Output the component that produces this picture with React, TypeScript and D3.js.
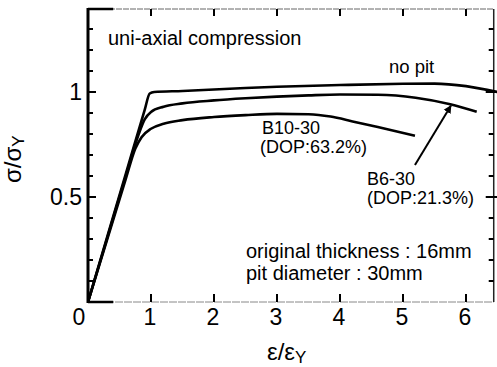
import React from "react";
import * as d3 from "d3";

const W = 497;
const H = 367;

// strain ratio vs stress ratio
const noPit: [number, number][] = [
  [0, 0], [0.3, 0.305], [0.6, 0.61], [0.9, 0.915], [0.98, 0.993], [1.05, 1.0],
  [1.5, 1.005], [2, 1.012], [2.5, 1.019], [3, 1.025], [4, 1.033], [5, 1.039],
  [5.5, 1.04], [6, 1.028], [6.5, 1.0],
];
const b630: [number, number][] = [
  [0, 0], [0.3, 0.3], [0.6, 0.6], [0.8, 0.795], [0.9, 0.87], [1.0, 0.905],
  [1.2, 0.93], [1.5, 0.946], [2, 0.96], [2.5, 0.97], [3, 0.978], [3.5, 0.984],
  [4, 0.988], [4.6, 0.987], [5.2, 0.973], [5.75, 0.942], [6.17, 0.906],
];
const b1030: [number, number][] = [
  [0, 0], [0.3, 0.293], [0.6, 0.586], [0.75, 0.73], [0.85, 0.785], [1.0, 0.825],
  [1.2, 0.849], [1.5, 0.866], [2, 0.881], [2.5, 0.89], [3, 0.896], [3.5, 0.894],
  [3.85, 0.883], [4.2, 0.86], [4.6, 0.833], [5.19, 0.792],
];
const arrowFrom: [number, number] = [5.19, 0.652];
const arrowTo: [number, number] = [5.76, 0.935];

const xTicks = [1, 2, 3, 4, 5, 6];
const yMinor = d3.range(1, 14).map((i) => i / 10);
const yLabels = [0.5, 1];

const FONT = "'Liberation Sans', Arial, Helvetica, sans-serif";

export default function App() {
  const x = d3.scaleLinear().domain([0, 6.5]).range([88, 497.5]);
  const y = d3.scaleLinear().domain([0, 1.4]).range([302, 8]);
  const xRight = x(6.44);
  const line = d3
    .line<[number, number]>()
    .x((d) => x(d[0]))
    .y((d) => y(d[1]))
    .curve(d3.curveMonotoneX);

  return (
    <div style={{ position: "fixed", left: 0, top: 0 }}>
      <svg width={W} height={H} style={{ display: "block", background: "#fff" }}>
        <defs>
          <clipPath id="clip">
            <rect x={x(0)} y={0} width={W - x(0)} height={y(0)} />
          </clipPath>
          <marker id="ah" viewBox="0 0 10 10" refX="9" refY="5" markerWidth="4" markerHeight="5" orient="auto">
            <path d="M0,0 L10,5 L0,10 z" fill="#000" />
          </marker>
        </defs>

        {/* frame */}
        <line x1={x(0)} x2={xRight} y1={y(1.4) + 1} y2={y(1.4) + 1} stroke="#666" strokeWidth={1} strokeDasharray="6 1" />
        <line x1={x(0)} x2={x(0.4)} y1={y(1.4) + 1} y2={y(1.4) + 1} stroke="#000" strokeWidth={2.5} />
        <line x1={x(0)} x2={xRight} y1={y(0)} y2={y(0)} stroke="#888" strokeWidth={1} strokeDasharray="8 1" />
        <line x1={x(0)} x2={x(0.4)} y1={y(0)} y2={y(0)} stroke="#000" strokeWidth={2.5} />
        <line x1={x(0)} x2={x(0)} y1={y(1.4)} y2={y(0) + 1} stroke="#000" strokeWidth={3} />
        <line x1={xRight} x2={xRight} y1={y(1.4) + 1} y2={y(0)} stroke="#222" strokeWidth={1.5} />

        {/* x ticks top & bottom */}
        {xTicks.map((t) => (
          <g key={"xt" + t}>
            <line x1={x(t)} x2={x(t)} y1={y(1.4) + 1} y2={y(1.4) + 8} stroke="#000" strokeWidth={2} />
            <line x1={x(t)} x2={x(t)} y1={y(0)} y2={y(0) - 8} stroke="#000" strokeWidth={2} />
            <text x={x(t) - 1} y={325} fontSize={23} fontFamily={FONT} textAnchor="middle" fill="#000">
              {t}
            </text>
          </g>
        ))}

        {/* y ticks left & right */}
        {yMinor.map((t) => {
          const major = Math.abs(t - 0.5) < 1e-6 || Math.abs(t - 1) < 1e-6;
          const len = major ? 8 : 5;
          return (
            <g key={"yt" + t}>
              <line x1={x(0)} x2={x(0) + len} y1={y(t)} y2={y(t)} stroke="#000" strokeWidth={2} />
              <line x1={xRight} x2={xRight - len} y1={y(t)} y2={y(t)} stroke="#000" strokeWidth={2} />
              {major && (
                <line x1={xRight} x2={xRight + 4} y1={y(t)} y2={y(t)} stroke="#000" strokeWidth={2} />
              )}
            </g>
          );
        })}
        {yLabels.map((t) => (
          <text key={"yl" + t} x={82} y={y(t) + 8} fontSize={23} fontFamily={FONT} textAnchor="end" fill="#000">
            {t}
          </text>
        ))}
        <text x={79} y={325} fontSize={23} fontFamily={FONT} textAnchor="middle" fill="#000">0</text>

        {/* curves */}
        <g clipPath="url(#clip)" fill="none" stroke="#000" strokeWidth={2.6} strokeLinejoin="round">
          <path d={line(noPit) || ""} />
          <path d={line(b630) || ""} />
          <path d={line(b1030) || ""} />
        </g>

        {/* arrow */}
        <line
          x1={x(arrowFrom[0])}
          y1={y(arrowFrom[1])}
          x2={x(arrowTo[0])}
          y2={y(arrowTo[1])}
          stroke="#000"
          strokeWidth={2}
          markerEnd="url(#ah)"
        />

        {/* annotations */}
        <g fontFamily={FONT} fill="#000">
          <text x={108} y={45} fontSize={20}>uni-axial compression</text>
          <text x={389} y={73} fontSize={18.5}>no pit</text>
          <text x={262} y={134} fontSize={18}>B10-30</text>
          <text x={260} y={153} fontSize={18}>(DOP:63.2%)</text>
          <text x={367} y={185} fontSize={18}>B6-30</text>
          <text x={367} y={204} fontSize={18}>(DOP:21.3%)</text>
          <text x={246} y={258} fontSize={20}>original thickness : 16mm</text>
          <text x={246} y={280} fontSize={20}>pit diameter : 30mm</text>
        </g>

        {/* axis titles */}
        <text x={267} y={360} fontSize={24} fontFamily={FONT} fill="#000">
          ε/ε<tspan fontSize={17} dy={3}>Y</tspan>
        </text>
        <text
          transform={`translate(21,183) rotate(-90)`}
          fontSize={24}
          fontFamily={FONT}
          fill="#000"
        >
          σ/σ<tspan fontSize={17} dy={3}>Y</tspan>
        </text>
      </svg>
    </div>
  );
}
